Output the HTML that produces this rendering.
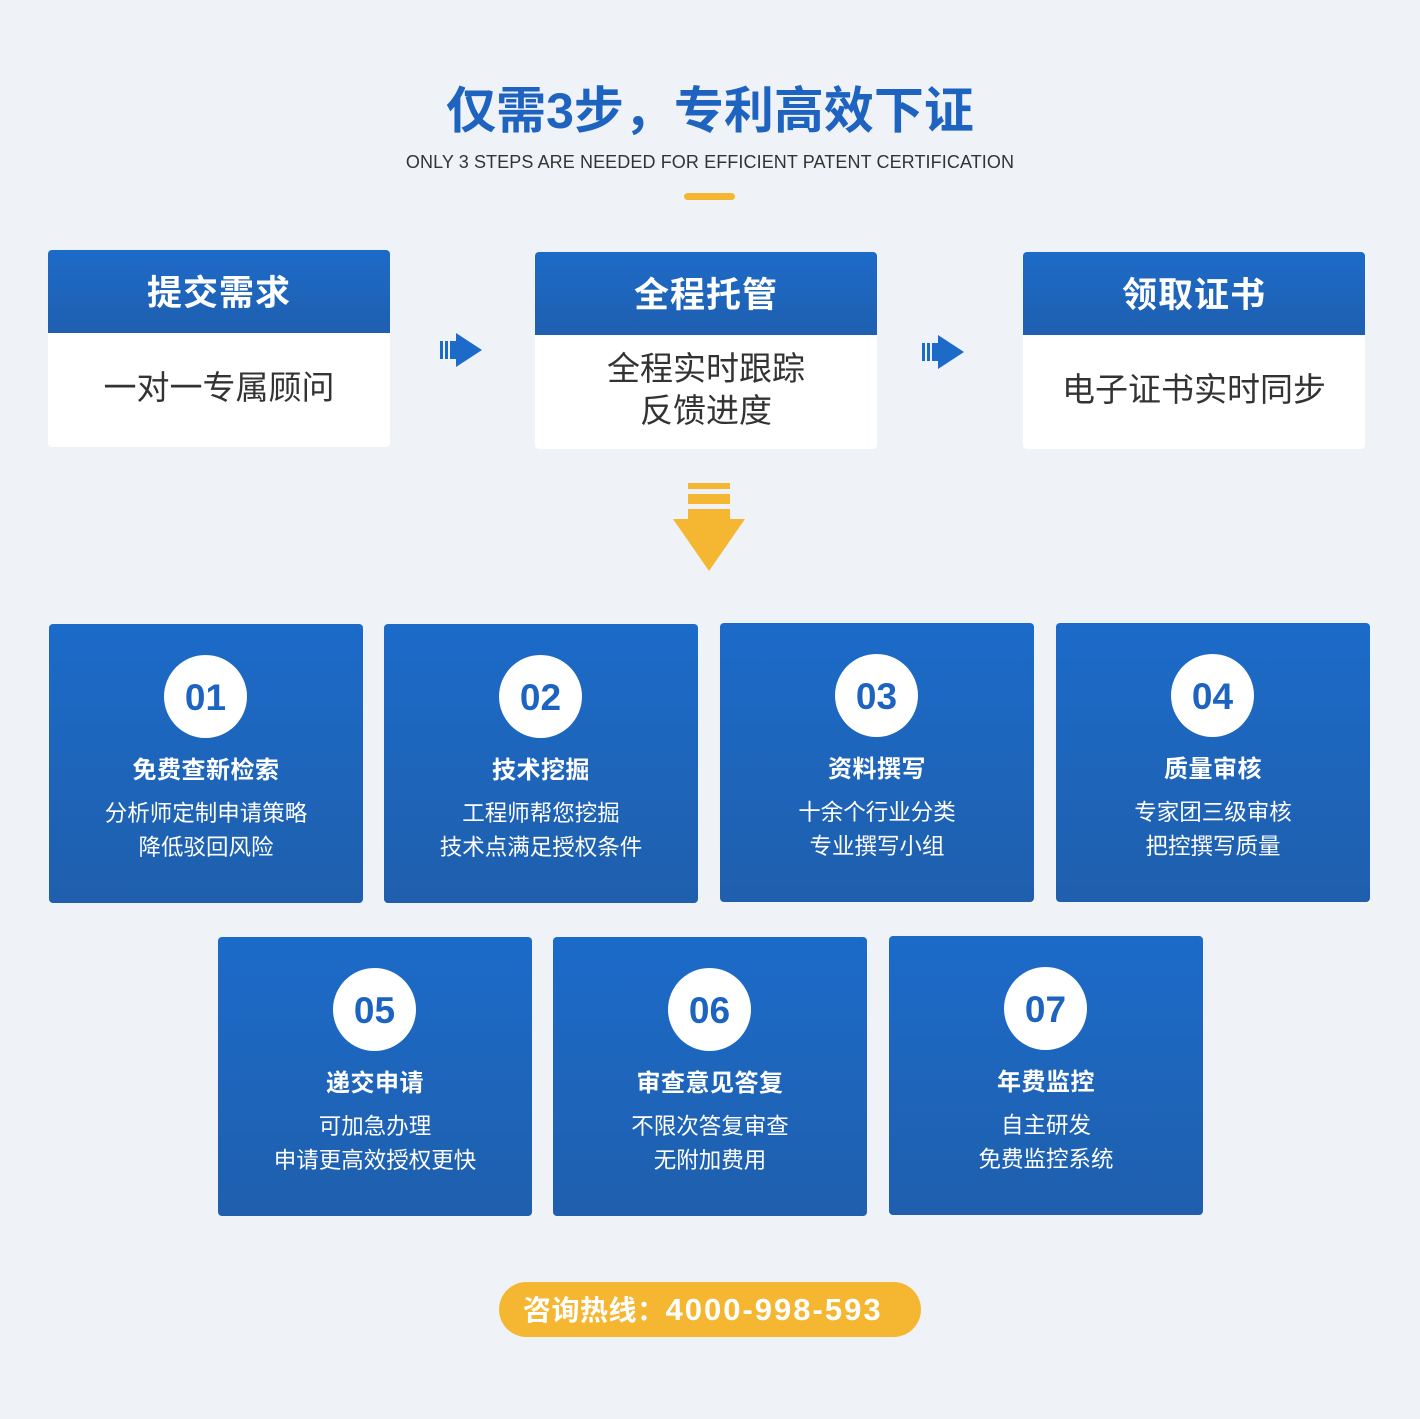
<!DOCTYPE html>
<html><head><meta charset="utf-8"><style>
*{margin:0;padding:0;box-sizing:border-box}
body{width:1420px;height:1419px;background:#eff3f8;position:relative;font-family:"Liberation Sans","Noto Sans CJK SC",sans-serif;overflow:hidden}
.a{position:absolute}
.c{text-align:center}
.top{position:absolute;width:342px;height:197px;background:#fff;border-radius:4px;overflow:hidden}
.top .h{height:83px;background:linear-gradient(#1d6bc8,#1f5fb0);color:#fff;font-weight:bold;font-size:35px;line-height:88px;text-align:center;letter-spacing:1px}
.top .b{height:114px;display:flex;align-items:center;justify-content:center;text-align:center;font-size:33px;color:#333;line-height:42px;padding-bottom:4px}
.card{position:absolute;width:314px;height:279px;border-radius:4px;background:linear-gradient(#1c6bc9,#1f5fad);color:#fff;text-align:center}
.card .n{position:absolute;left:115px;top:31px;width:83px;height:83px;border-radius:50%;background:#fff;color:#1d63c0;font-weight:bold;font-size:37px;line-height:85px}
.card .t{position:absolute;left:0;right:0;top:130px;font-weight:bold;font-size:24px;line-height:34px;letter-spacing:0.5px}
.card .d{position:absolute;left:0;right:0;top:173px;font-size:22.5px;line-height:34px}
</style></head><body>
<div class="a c" style="left:0;width:1420px;top:78px;font-size:50px;font-weight:bold;color:#1e63c0;line-height:66px">仅需3步，专利高效下证</div>
<div class="a c" style="left:0;width:1420px;top:150px;font-size:18px;color:#333;letter-spacing:0.1px;line-height:24px">ONLY 3 STEPS ARE NEEDED FOR EFFICIENT PATENT CERTIFICATION</div>
<div class="a" style="left:684px;top:193px;width:51px;height:7px;border-radius:4px;background:#f5b731"></div>

<div class="top" style="left:48px;top:250px"><div class="h">提交需求</div><div class="b">一对一专属顾问</div></div>
<div class="top" style="left:535px;top:252px"><div class="h">全程托管</div><div class="b">全程实时跟踪<br>反馈进度</div></div>
<div class="top" style="left:1023px;top:252px"><div class="h">领取证书</div><div class="b">电子证书实时同步</div></div>

<svg class="a" style="left:440px;top:333px" width="43" height="35"><rect x="0" y="8" width="3" height="18" fill="#1d6bc8"/><rect x="5" y="8" width="3" height="18" fill="#1d6bc8"/><rect x="10" y="8" width="6" height="18" fill="#1d6bc8"/><polygon points="16,0 42,17 16,34" fill="#1d6bc8"/></svg>
<svg class="a" style="left:922px;top:335px" width="43" height="35"><rect x="0" y="8" width="3" height="18" fill="#1d6bc8"/><rect x="5" y="8" width="3" height="18" fill="#1d6bc8"/><rect x="10" y="8" width="6" height="18" fill="#1d6bc8"/><polygon points="16,0 42,17 16,34" fill="#1d6bc8"/></svg>
<svg class="a" style="left:673px;top:483px" width="72" height="89"><rect x="15" y="0" width="42" height="6" fill="#f5b731"/><rect x="15" y="11" width="42" height="10" fill="#f5b731"/><rect x="15" y="26" width="42" height="11" fill="#f5b731"/><polygon points="0,36 72,36 36,88" fill="#f5b731"/></svg>

<div class="card" style="left:49px;top:624px"><div class="n">01</div><div class="t">免费查新检索</div><div class="d">分析师定制申请策略<br>降低驳回风险</div></div>
<div class="card" style="left:384px;top:624px"><div class="n">02</div><div class="t">技术挖掘</div><div class="d">工程师帮您挖掘<br>技术点满足授权条件</div></div>
<div class="card" style="left:720px;top:623px"><div class="n">03</div><div class="t">资料撰写</div><div class="d">十余个行业分类<br>专业撰写小组</div></div>
<div class="card" style="left:1056px;top:623px"><div class="n">04</div><div class="t">质量审核</div><div class="d">专家团三级审核<br>把控撰写质量</div></div>
<div class="card" style="left:218px;top:937px"><div class="n">05</div><div class="t">递交申请</div><div class="d">可加急办理<br>申请更高效授权更快</div></div>
<div class="card" style="left:553px;top:937px"><div class="n">06</div><div class="t">审查意见答复</div><div class="d">不限次答复审查<br>无附加费用</div></div>
<div class="card" style="left:889px;top:936px"><div class="n">07</div><div class="t">年费监控</div><div class="d">自主研发<br>免费监控系统</div></div>

<div class="a" style="left:499px;top:1282px;width:422px;height:55px;border-radius:28px;background:#f5b731;color:#fff;font-weight:bold;font-size:28px;line-height:55px;padding-left:24px;letter-spacing:0.5px;white-space:nowrap">咨询热线：<span style="font-size:31px;letter-spacing:2px">4000-998-593</span></div>
</body></html>
